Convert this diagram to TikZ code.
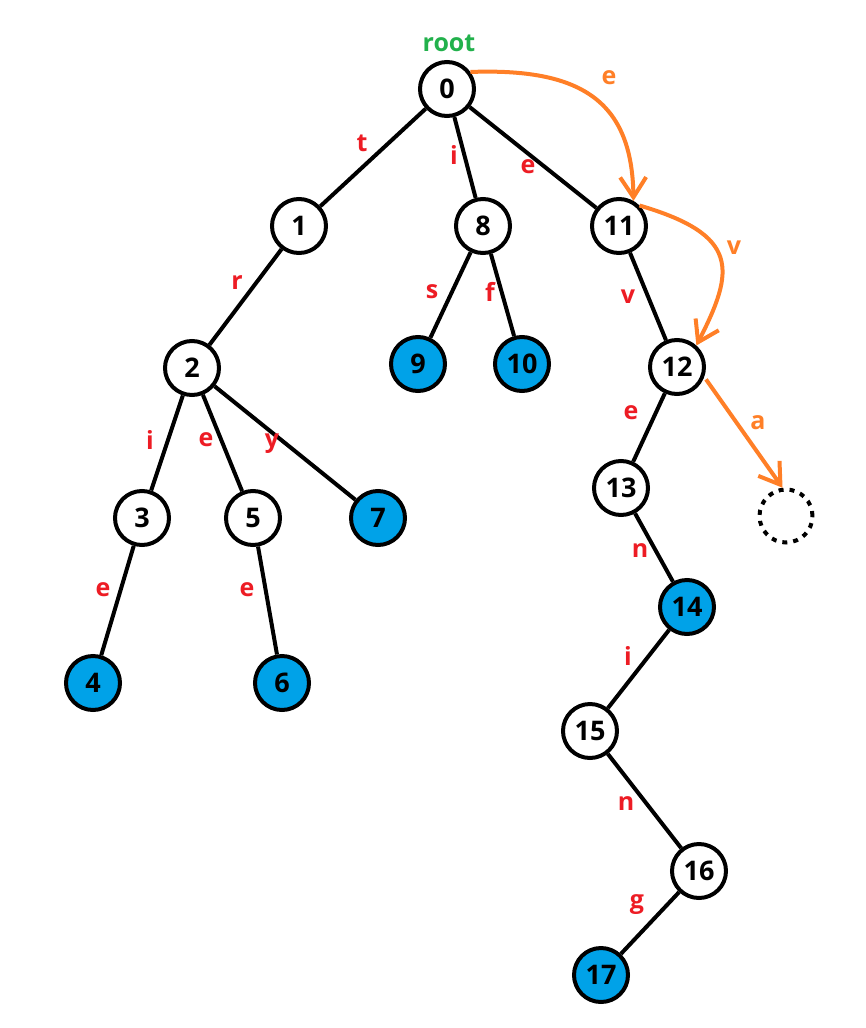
\documentclass[tikz,border=0pt]{standalone}
\usepackage{fontspec}
\setmainfont{Open Sans}[BoldFont={* Bold}]
\usetikzlibrary{arrows.meta}
\definecolor{nblue}{HTML}{00A2E8}
\definecolor{lred}{HTML}{ED1C24}
\definecolor{lorange}{HTML}{FF7F27}
\definecolor{lgreen}{HTML}{22B14C}
\tikzset{
  tnode/.style={circle,draw=black,line width=4pt,fill=white,minimum size=54pt,inner sep=0pt,font=\fontsize{27}{27}\selectfont\bfseries},
  leaf/.style={tnode,fill=nblue},
  ghost/.style={circle,draw=black,line width=4pt,dash pattern=on 5pt off 6pt,minimum size=53pt,inner sep=0pt},
  edge/.style={line width=4pt,black},
  lab/.style={text=lred,font=\fontsize{25}{25}\selectfont\bfseries,inner sep=0pt},
  olab/.style={text=lorange,font=\fontsize{25}{25}\selectfont\bfseries,inner sep=0pt},
  oarrow/.style={draw=lorange,line width=4pt,-{Straight Barb[length=20pt,width=26pt,line width=4pt]}},
}
\begin{document}
\begin{tikzpicture}[x=1pt,y=-1pt]
\useasboundingbox (0,0) rectangle (866,1028);
\node[text=lgreen,font=\fontsize{25}{25}\selectfont\bfseries] (root) at (449,43) {root};
\node[tnode] (n0) at (447,89) {0};
\node[tnode] (n1) at (299,226) {1};
\node[tnode] (n8) at (483,226) {8};
\node[tnode] (n11) at (619,226) {11};
\node[tnode] (n2) at (192,368) {2};
\node[leaf] (n9) at (418,364) {9};
\node[leaf] (n10) at (522,364) {10};
\node[tnode] (n12) at (677,367) {12};
\node[tnode] (n3) at (142,518) {3};
\node[tnode] (n5) at (253,518) {5};
\node[leaf] (n7) at (378,518) {7};
\node[tnode] (n13) at (621,488) {13};
\node[ghost] (gh) at (786,516) {};
\node[leaf] (n14) at (687,607) {14};
\node[leaf] (n4) at (93,683) {4};
\node[leaf] (n6) at (282,683) {6};
\node[tnode] (n15) at (590,731) {15};
\node[tnode] (n16) at (699,871) {16};
\node[leaf] (n17) at (601,975) {17};

\draw[edge] (n0) -- (n1);
\draw[edge] (n0) -- (n8);
\draw[edge] (n0) -- (n11);
\draw[edge] (n1) -- (n2);
\draw[edge] (n8) -- (n9);
\draw[edge] (n8) -- (n10);
\draw[edge] (n11) -- (n12);
\draw[edge] (n2) -- (n3);
\draw[edge] (n2) -- (n5);
\draw[edge] (n2) -- (n7);
\draw[edge] (n12) -- (n13);
\draw[edge] (n13) -- (n14);
\draw[edge] (n3) -- (n4);
\draw[edge] (n5) -- (n6);
\draw[edge] (n14) -- (n15);
\draw[edge] (n15) -- (n16);
\draw[edge] (n16) -- (n17);

\node[lab] (lt) at (362,143) {t};
\node[lab] (li1) at (454,155) {i};
\node[lab] (le1) at (528,167) {e};
\node[lab] (lr) at (237,283) {r};
\node[lab] (ls) at (432,292) {s};
\node[lab] (lf) at (490,292) {f};
\node[lab] (lv) at (628,297) {v};
\node[lab] (li2) at (150,440) {i};
\node[lab] (le2) at (206,440) {e};
\node[lab] (ly) at (272,444) {y};
\node[lab] (le3) at (103,590) {e};
\node[lab] (le4) at (247,590) {e};
\node[lab] (le5) at (631,413) {e};
\node[lab] (ln1) at (640,551) {n};
\node[lab] (li3) at (628,656) {i};
\node[lab] (ln2) at (626,804) {n};
\node[lab] (lg) at (637,905) {g};

\node[olab] (oe) at (609,78) {e};
\node[olab] (ov) at (734,248) {v};
\node[olab] (oa) at (758,423) {a};

\draw[oarrow] (n0.36) .. controls (580,68) and (632,100) .. (n11.60);
\draw[oarrow] (n11.45) .. controls (740,235) and (735,270) .. (n12.48);
\draw[oarrow,shorten <=3pt] (n12.-20) -- (gh.97);
\end{tikzpicture}
\end{document}
